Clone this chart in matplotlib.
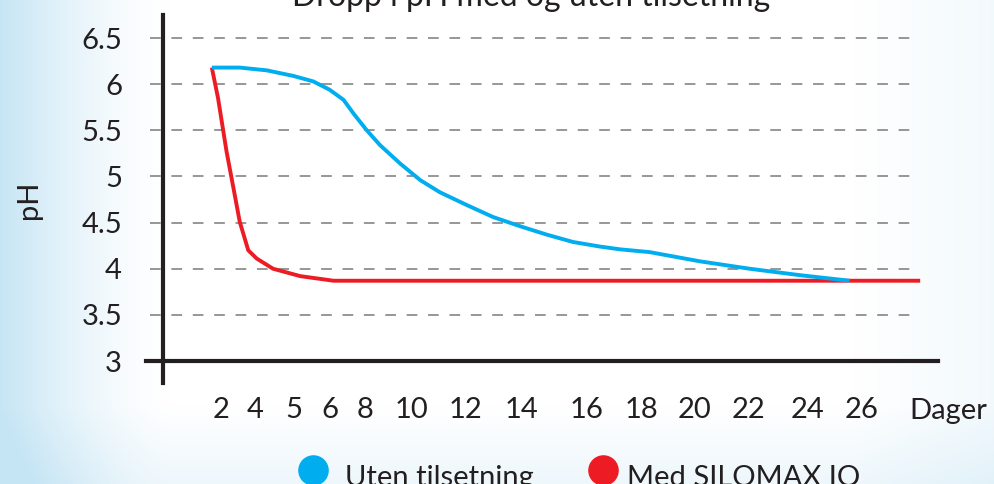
import matplotlib
matplotlib.use("Agg")
import matplotlib.pyplot as plt
from matplotlib.lines import Line2D
import numpy as np

# x is the position along the day axis (0-100, the axis is not evenly spaced), y is pH
uten_x = [6.3, 9.9, 13.4, 16.8, 19.4, 21.5, 23.3, 24.6, 26.3, 28.0, 30.6, 33.2, 35.7,
          39.2, 42.6, 46.1, 49.5, 52.9, 56.4, 59.0, 62.8, 69.3, 75.7, 82.2, 88.6]
uten_ph = [6.18, 6.18, 6.15, 6.09, 6.03, 5.94, 5.83, 5.68, 5.50, 5.34, 5.14, 4.96, 4.83,
           4.69, 4.56, 4.46, 4.37, 4.29, 4.24, 4.21, 4.18, 4.08, 4.00, 3.93, 3.87]
med_x = [6.3, 7.1, 8.2, 9.1, 9.9, 11.0, 12.1, 14.2, 17.7, 22.0, 97.7]
med_ph = [6.18, 5.85, 5.27, 4.87, 4.51, 4.20, 4.11, 4.00, 3.92, 3.87, 3.87]

day_labels = ['2', '4', '5', '6', '8', '10', '12', '14', '16', '18', '20', '22', '24', '26']
day_pos = [7.5, 11.9, 16.9, 21.5, 26.1, 32.1, 39.0, 46.3, 54.7, 61.8, 68.6, 75.5, 83.2, 90.2]
ph_ticks = [3, 3.5, 4, 4.5, 5, 5.5, 6, 6.5]
ph_labels = ['3', '3.5', '4', '4.5', '5', '5.5', '6', '6.5']

BLUE = '#00aeef'
RED = '#ed1c24'
INK = '#231f20'

plt.rcParams['font.family'] = ['Lato', 'DejaVu Sans']

fig = plt.figure(figsize=(9.95, 4.84), dpi=100)

# pale blue backdrop, strongest on the left edge
bg = fig.add_axes([0, 0, 1, 1], zorder=-10)
gx, gy = np.meshgrid(np.linspace(0, 1, 400), np.linspace(0, 1, 200))
tint = np.clip(1 - gx / 0.17, 0, 1) ** 1.5
tint += np.clip((gx - 0.86) / 0.14, 0, 1) * 0.22
tint += np.clip((gy - 0.84) / 0.16, 0, 1) * 0.3
tint = np.clip(tint, 0, 1)[..., None]
base = np.array([0.78, 0.90, 0.96])
bg.imshow(1 - tint * (1 - base), aspect='auto', extent=(0, 1, 0, 1))
bg.axis('off')

ax = fig.add_axes([163 / 995, 123 / 484, 775 / 995, 346 / 484])
ax.set_facecolor('none')
ax.set_xlim(0, 100)
ax.set_ylim(3, 6.75)

# dashed grid lines
for v in ph_ticks[1:]:
    ax.plot([-1.7, 97.7], [v, v], color='#7a7a7a', lw=1.1, ls=(0, (7, 7)),
            clip_on=False, zorder=1)

ax.plot(med_x, med_ph, color=RED, lw=2.8, solid_capstyle='butt',
        solid_joinstyle='round', zorder=3)
ax.plot(uten_x, uten_ph, color=BLUE, lw=2.8, solid_capstyle='butt',
        solid_joinstyle='round', zorder=4)

# hand-drawn style axis lines
for s in ax.spines.values():
    s.set_visible(False)
ax.plot([0, 0], [-0.064, 1], transform=ax.transAxes, color=INK, lw=3,
        clip_on=False, zorder=5)
ax.plot([-0.022, 1], [0, 0], transform=ax.transAxes, color=INK, lw=3,
        clip_on=False, zorder=5)

ax.set_yticks(ph_ticks)
ax.set_yticklabels(ph_labels)
ax.set_xticks(day_pos)
ax.set_xticklabels(day_labels)
ax.tick_params(axis='y', length=0, pad=29.5, labelsize=21, labelcolor=INK)
ax.tick_params(axis='x', length=0, pad=26, labelsize=21, labelcolor=INK)
ax.text(101.3, -37 / 346, 'Dager', transform=ax.get_xaxis_transform(),
        ha='center', va='top', fontsize=21, color=INK)

fig.text(29 / 995, 1 - 200 / 484, 'pH', rotation=90, ha='center', va='center',
         fontsize=21, color=INK)

fig.text(531 / 995, 1 - 6 / 484, 'Dropp i pH med og uten tilsetning',
         ha='center', va='baseline', fontsize=23, color=INK)

# legend
fig.add_artist(Line2D([313 / 995], [14 / 484], marker='o', ms=21, color=BLUE,
                      lw=0, transform=fig.transFigure))
fig.text(345 / 995, -2 / 484, 'Uten tilsetning', ha='left', va='baseline',
         fontsize=21, color=INK)
fig.add_artist(Line2D([603 / 995], [14 / 484], marker='o', ms=21, color=RED,
                      lw=0, transform=fig.transFigure))
fig.text(627 / 995, -2 / 484, 'Med SILOMAX IQ', ha='left', va='baseline',
         fontsize=21, color=INK)

fig.savefig('out.png', dpi=100)
